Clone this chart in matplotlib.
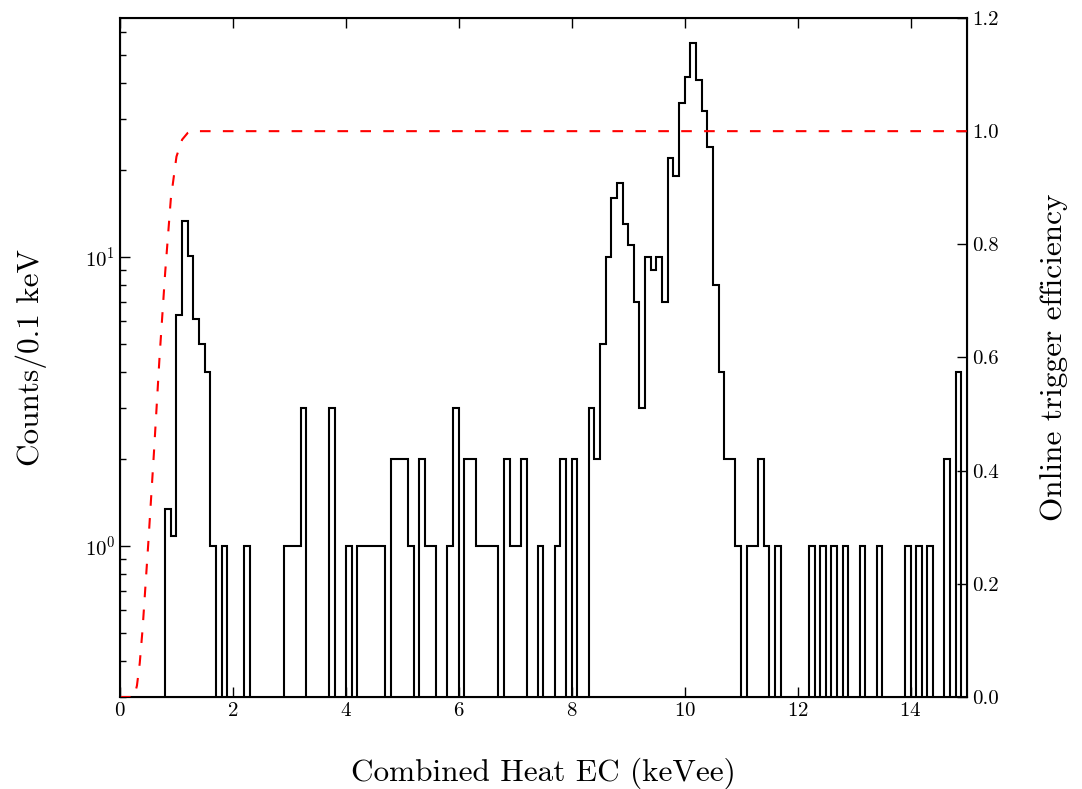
import numpy as np
import matplotlib
matplotlib.use('Agg')
import matplotlib.pyplot as plt
from matplotlib.ticker import LogLocator

plt.rcParams['font.family'] = 'serif'
plt.rcParams['font.serif'] = ['cmr10', 'DejaVu Serif']
plt.rcParams['mathtext.fontset'] = 'cm'
plt.rcParams['axes.formatter.use_mathtext'] = True

# Histogram: counts per 0.1 keV bin, 0 to 15 keVee (one row per keV)
bin_width = 0.1
counts = [
    0, 0, 0, 0, 0, 0, 0, 0, 1.34, 1.08,
    6.3, 13.3, 10.1, 6.1, 5.0, 4.0, 1, 0, 1, 0,
    0, 0, 1, 0, 0, 0, 0, 0, 0, 1,
    1, 1, 3, 0, 0, 0, 0, 3, 0, 0,
    1, 0, 1, 1, 1, 1, 1, 0, 2, 2,
    2, 1, 0, 2, 1, 1, 0, 0, 1, 3,
    0, 2, 2, 1, 1, 1, 1, 0, 2, 1,
    1, 2, 0, 0, 1, 0, 0, 1, 2, 0,
    2, 0, 0, 3, 2, 5, 10, 16, 18, 13,
    11, 7, 3, 10, 9, 10, 7, 22, 19, 34,
    42, 55, 41, 32, 24, 8, 4, 2, 2, 1,
    0, 1, 1, 2, 1, 0, 1, 0, 0, 0,
    0, 0, 1, 0, 1, 0, 1, 0, 1, 0,
    0, 1, 0, 0, 1, 0, 0, 0, 0, 1,
    0, 1, 0, 1, 0, 0, 2, 0, 4, 0,
]

# Online trigger efficiency curve
eff_energy = [0.0, 0.25, 0.3, 0.35, 0.4, 0.5, 0.6, 0.7, 0.8, 0.9, 1.0, 1.1, 1.2, 1.25, 15.0]
eff_value = [0.0, 0.0, 0.02, 0.06, 0.12, 0.27, 0.43, 0.6, 0.75, 0.88, 0.955, 0.985, 0.997, 1.0, 1.0]

counts = np.array(counts, dtype=float)
edges = np.arange(len(counts) + 1) * bin_width
floor = 1e-3
plot_counts = np.where(counts > 0, counts, floor)

fig = plt.figure(figsize=(10.82, 7.89), dpi=100)
ax = fig.add_axes([0.1109, 0.1166, 0.7828, 0.8606])

ax.stairs(plot_counts, edges, baseline=floor, color='black', linewidth=1.5)
ax.set_yscale('log')
ax.set_xlim(0, 15)
ax.set_ylim(0.3, 67)
ax.set_xticks([0, 2, 4, 6, 8, 10, 12, 14])
ax.yaxis.set_major_locator(LogLocator(base=10))
ax.yaxis.set_minor_locator(LogLocator(base=10, subs=np.arange(2, 10)))
ax.tick_params(which='both', direction='in', top=True, right=False, labelsize=15)
ax.tick_params(which='major', length=7, width=1)
ax.tick_params(which='minor', length=4, width=1)
ax.set_xlabel('Combined Heat EC (keVee)', fontsize=22.5, labelpad=27)
ax.set_ylabel('Counts/0.1 keV', fontsize=22.5, labelpad=27)
for s in ax.spines.values():
    s.set_linewidth(1.5)

ax2 = ax.twinx()
ax2.plot(eff_energy, eff_value, color='red', linestyle='--', dashes=(5.1, 5.9), linewidth=1.5)
ax2.set_ylim(0, 1.2)
ax2.set_yticks(np.arange(0, 1.21, 0.2))
ax2.set_yticklabels(['%.1f' % v for v in np.arange(0, 1.21, 0.2)])
ax2.tick_params(direction='in', length=7, width=1, labelsize=15)
ax2.set_ylabel('Online trigger efficiency', fontsize=22.5, labelpad=30)
ax2.set_xlim(0, 15)

fig.savefig('out.png', dpi=100)
